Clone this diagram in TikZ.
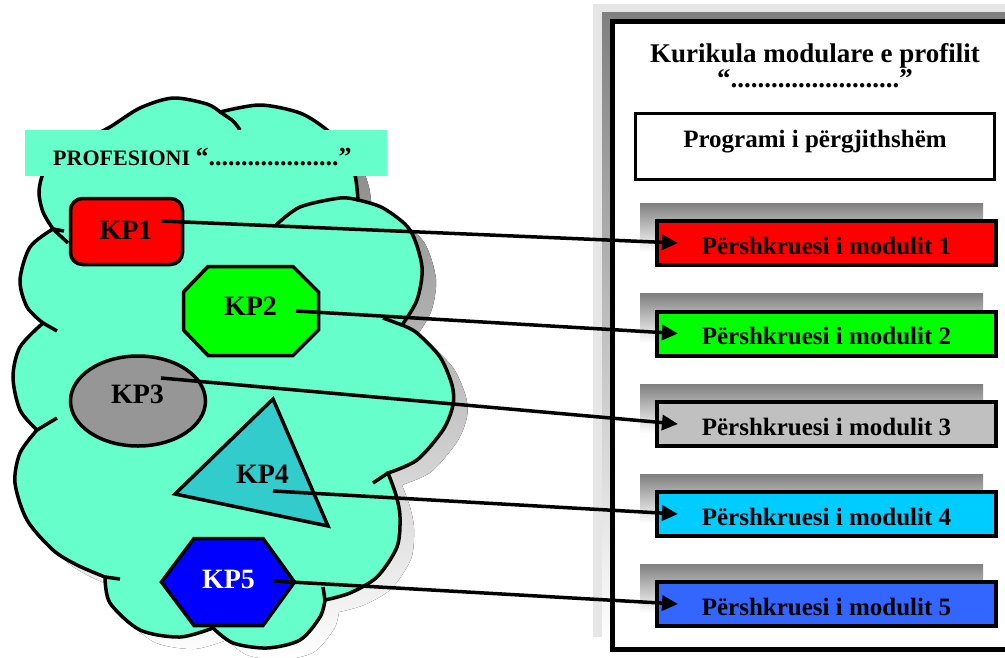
\documentclass[tikz,border=0pt]{standalone}
\usepackage{fontspec}
\setmainfont{Liberation Serif}
\usetikzlibrary{arrows.meta}

\definecolor{aqua}{RGB}{102,255,204}
\definecolor{shade}{RGB}{128,128,128}
\definecolor{pale}{RGB}{230,230,230}
\definecolor{kpred}{RGB}{255,0,0}
\definecolor{kpgreen}{RGB}{0,255,0}
\definecolor{kpgray}{RGB}{150,150,150}
\definecolor{kpteal}{RGB}{51,204,204}
\definecolor{kpblue}{RGB}{0,0,255}
\definecolor{modgray}{RGB}{192,192,192}
\definecolor{modcyan}{RGB}{0,204,255}
\definecolor{modblue}{RGB}{51,102,255}

% outline of the cloud, one smooth arc per bump
\newcommand\cloudoutline{
 plot[smooth] coordinates {(53,229) (43,212) (39,192) (44,172) (60,156) (85,140) (110,127) (140,108) (173,98) (207,104) (220,112)}
 -- plot[smooth] coordinates {(220,112) (260,105) (300,113) (327,130) (345,150) (355,175) (358,200)}
 -- plot[smooth] coordinates {(358,200) (383,208) (410,230) (422,267) (417,300) (402,325)}
 -- plot[smooth] coordinates {(402,325) (417,333) (440,357) (452,385) (453,405) (443,430) (417,460) (388,473)}
 -- plot[smooth] coordinates {(388,473) (396,495) (400,517) (397,547) (377,577) (350,593) (325,600)}
 -- plot[smooth] coordinates {(325,600) (320,617) (300,640) (267,648) (233,643) (213,628)}
 -- plot[smooth] coordinates {(213,628) (180,637) (140,630) (110,603) (105,577)}
 -- plot[smooth] coordinates {(105,577) (77,565) (53,550) (27,520) (15,483) (20,453) (37,430)}
 -- plot[smooth] coordinates {(37,430) (20,410) (13,377) (20,347) (43,323)}
 -- plot[smooth] coordinates {(43,323) (27,307) (20,280) (30,247) (53,229)}
 -- cycle}

\tikzset{
 cloudline/.style={line width=3.5pt, draw=black},
 shapeline/.style={line width=3.5pt, draw=black, line join=miter},
 kplabel/.style={anchor=base, inner sep=0pt, font=\bfseries\fontsize{28}{32}\selectfont},
 modbox/.style={draw=black, line width=4pt, minimum width=339pt, minimum height=44pt, inner sep=0pt},
 modtext/.style={anchor=base, inner sep=0pt, font=\bfseries\fontsize{25}{30}\selectfont},
 link/.style={line width=3.5pt, -{Triangle[length=16pt,width=15pt]}},
}

\begin{document}
\begin{tikzpicture}[x=1pt, y=-1pt]
\useasboundingbox (0,0) rectangle (1005,657);
\clip (0,0) rectangle (1005,657);

% ---- cloud with its shadow ----
\fill[shade, shift={(14,12)}] \cloudoutline;
\filldraw[fill=aqua, cloudline, line join=miter] \cloudoutline;
% short inner arcs at the cusps
\draw[cloudline] (53,229) -- (68,243);
\draw[cloudline] (53,229) -- (64,231);
\draw[cloudline] plot[smooth] coordinates {(220,112) (233,121) (240,130)};
\draw[cloudline] plot[smooth] coordinates {(358,200) (340,198) (300,207) (276,225)};
\draw[cloudline] (402,325) -- (383,318);
\draw[cloudline] (388,473) -- (373,483);
\draw[cloudline] (325,600) -- (323,587);
\draw[cloudline] (105,577) -- (120,579);
\draw[cloudline] (37,430) -- (57,418);
\draw[cloudline] (43,323) -- (57,331);

% ---- title band ----
\fill[aqua] (25,130) rectangle (387,176);
\node[anchor=base west, inner sep=0pt, font=\bfseries\fontsize{22}{26}\selectfont] (prof) at (53,165)
  {PROFESIONI {\fontsize{26}{30}\selectfont “....................”}};

% ---- competences ----
\draw[shapeline, fill=kpred, rounded corners=12pt] (70.5,198.5) rectangle (182.5,264.5);
\node[kplabel] (kp1) at (126,239) {KP1};

\draw[shapeline, fill=kpgreen] (208,266.5) -- (293,266.5) -- (318.5,292) -- (318.5,330) -- (293,355.5)
  -- (208,355.5) -- (183.5,330) -- (183.5,292) -- cycle;
\node[kplabel] (kp2) at (250.5,315) {KP2};

\draw[shapeline, fill=kpgray] (138,401) ellipse [x radius=67.5, y radius=45];
\node[kplabel] (kp3) at (137.5,403) {KP3};

\draw[shapeline, fill=kpteal] (273,399) -- (175,494) -- (328,526) -- cycle;
\node[kplabel] (kp4) at (262.5,483) {KP4};

\draw[shapeline, fill=kpblue] (161.5,582) -- (194,538.5) -- (263,538.5) -- (294.5,582) -- (263,625.5)
  -- (194,625.5) -- cycle;
\node[kplabel, text=white] (kp5) at (228.5,588) {KP5};

% ---- curriculum frame ----
\fill[pale] (593,4) rectangle (1020,637);
\fill[shade] (602,12) rectangle (1020,644);
\draw[line width=5.5pt, fill=white] (612.5,21.5) rectangle (1025,649.5);

\node[anchor=base, inner sep=0pt, font=\bfseries\fontsize{27}{32}\selectfont] (title) at (815,62)
  {Kurikula modulare e profilit};
\node[anchor=base, inner sep=0pt, font=\bfseries\fontsize{27}{32}\selectfont] (title2) at (815,87)
  {“.........................”};

\node[draw=black, line width=3.5pt, minimum width=359pt, minimum height=66pt, inner sep=0pt] (prog) at (815,146.5) {};
\node[anchor=base, inner sep=0pt, font=\bfseries\fontsize{25}{30}\selectfont] (progtext) at (815,147)
  {Programi i përgjithshëm};

\foreach \c/\col/\n in {243/kpred/1, 333.5/kpgreen/2, 424/modgray/3, 514/modcyan/4, 604/modblue/5} {
  \fill[shade] (640,\c-40) rectangle (983,\c+9);
  \node[modbox, fill=\col] (m\n) at (826.5,\c) {};
  \node[modtext] (t\n) at (826.5,\c+11) {Përshkruesi i modulit \n};
}

% ---- connectors ----
\coordinate (s1) at (161,221);
\coordinate (s2) at (296,311);
\coordinate (s3) at (161,378);
\coordinate (s4) at (273,491);
\coordinate (s5) at (273,581);
\foreach \n in {1,...,5} {
  \draw[link] (s\n) -- ([xshift=23pt]m\n.west);
}
\end{tikzpicture}
\end{document}
